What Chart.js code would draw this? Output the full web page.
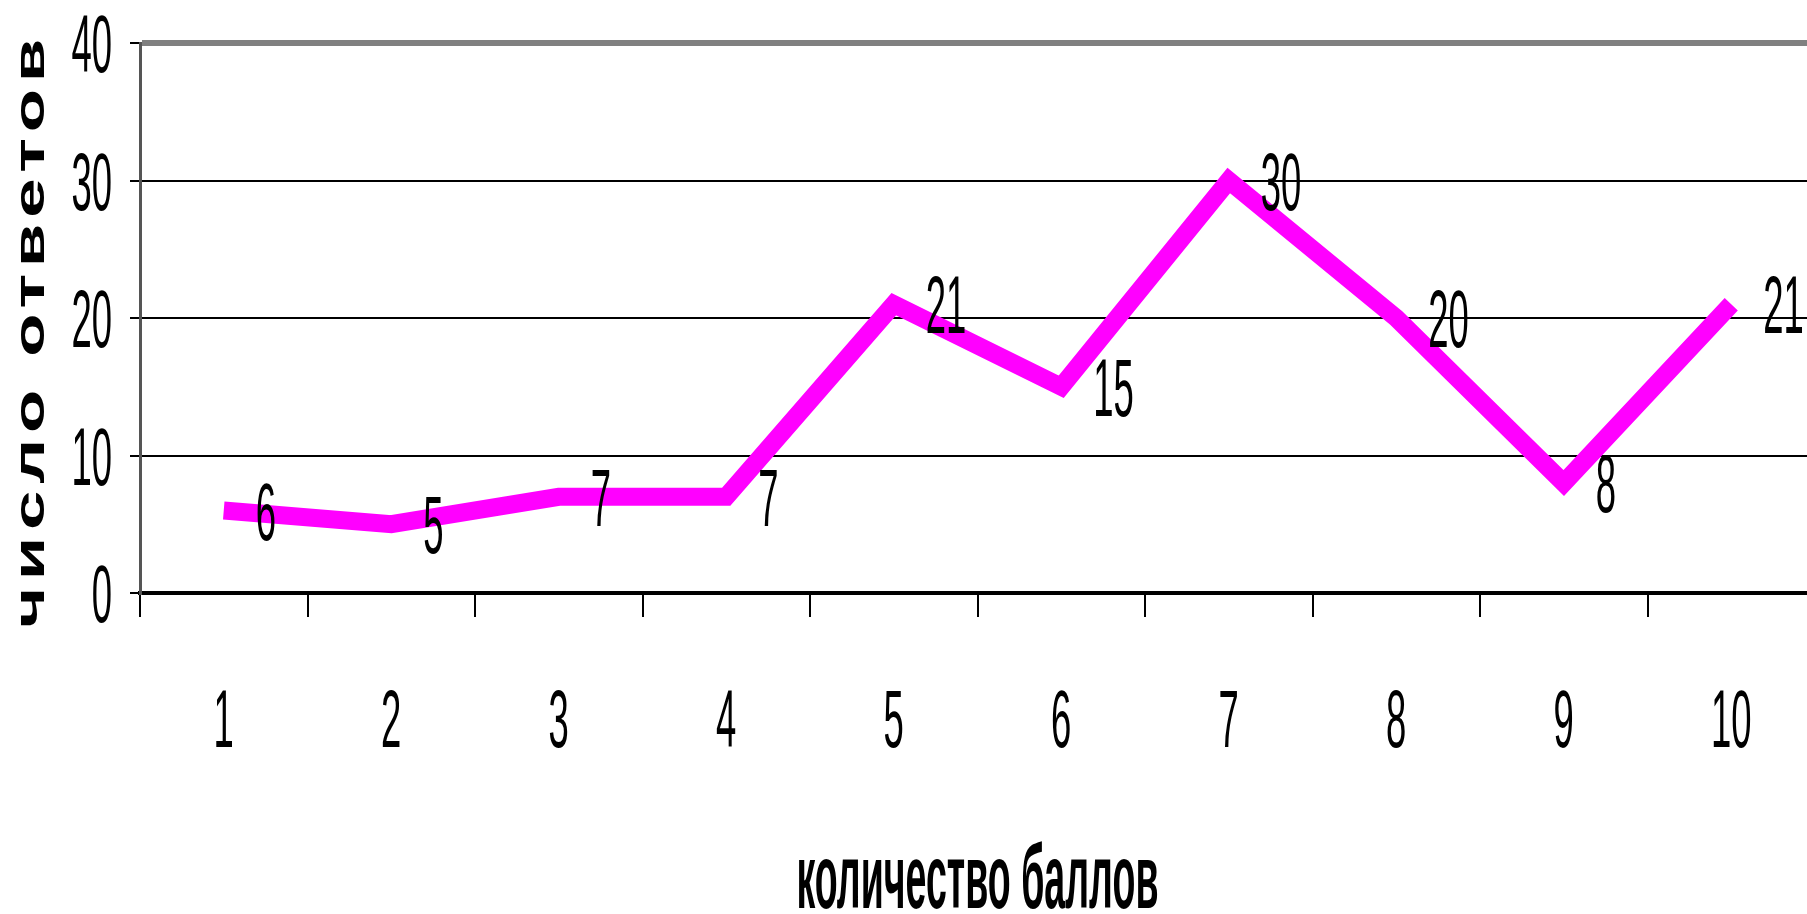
<!DOCTYPE html>
<html>
<head>
<meta charset="utf-8">
<script src="https://cdn.jsdelivr.net/npm/chart.js@4/dist/chart.umd.min.js"></script>
<style>
  html, body { margin: 0; padding: 0; background: #fff; overflow: hidden; }
</style>
</head>
<body>
<canvas id="scoreChart" width="1815" height="914"></canvas>
<script>
const categories = ['1', '2', '3', '4', '5', '6', '7', '8', '9', '10'];
const answers = [6, 5, 7, 7, 21, 15, 30, 20, 8, 21];
const yMin = 0;
const yMax = 40;
const yStep = 10;
const xTitle = 'количество баллов';
const yTitle = 'число ответов';

const NUM_FONT = '81px "Liberation Sans", Arial, sans-serif';
const SQUEEZE = 0.45;

// narrow, tall digits like the original slide
function squeezedText(ctx, text, x, y, align) {
    ctx.save();
    ctx.font = NUM_FONT;
    ctx.fillStyle = '#000';
    ctx.textAlign = align;
    ctx.textBaseline = 'alphabetic';
    ctx.translate(x, y);
    ctx.scale(SQUEEZE, 1);
    ctx.fillText(text, 0, 0);
    ctx.restore();
}

const textPlugin = {
    id: 'slideText',
    afterDraw(chart) {
        const ctx = chart.ctx;
        const xs = chart.scales.x;
        const ys = chart.scales.y;
        const area = chart.chartArea;

        // y tick labels
        ys.ticks.forEach((t, i) => {
            squeezedText(ctx, String(t.value), area.left - 28, ys.getPixelForTick(i) + 29, 'right');
        });
        // x tick labels
        xs.ticks.forEach((t, i) => {
            squeezedText(ctx, xs.getLabelForValue(t.value), xs.getPixelForTick(i), area.bottom + 125 + 29, 'center');
        });
        // value labels next to the points
        const meta = chart.getDatasetMeta(0);
        meta.data.forEach((pt, i) => {
            squeezedText(ctx, String(answers[i]), pt.x + 32, pt.y + 29, 'left');
        });

        // x axis title
        ctx.save();
        ctx.font = 'bold 90px "Liberation Sans", Arial, sans-serif';
        ctx.fillStyle = '#000';
        ctx.textAlign = 'center';
        ctx.textBaseline = 'alphabetic';
        ctx.fillText(xTitle, (area.left + area.right) / 2, 908, 362);
        ctx.restore();

        // y axis title, spaced out and stretched
        ctx.save();
        ctx.font = 'bold 42px "Liberation Sans", Arial, sans-serif';
        ctx.fillStyle = '#000';
        ctx.letterSpacing = '4px';
        const w = ctx.measureText(yTitle).width;
        ctx.translate(44, 330);
        ctx.rotate(-Math.PI / 2);
        ctx.scale(596 / w, 1);
        ctx.textAlign = 'center';
        ctx.textBaseline = 'alphabetic';
        ctx.fillText(yTitle, 0, 0);
        ctx.restore();
    }
};

const ctx = document.getElementById('scoreChart').getContext('2d');
new Chart(ctx, {
    type: 'line',
    data: {
        labels: categories,
        datasets: [{
            data: answers,
            borderColor: '#ff00ff',
            borderWidth: 18,
            borderJoinStyle: 'miter',
            borderCapStyle: 'butt',
            pointRadius: 0,
            tension: 0,
            fill: false,
            clip: false
        }]
    },
    options: {
        responsive: false,
        animation: false,
        devicePixelRatio: 1,
        layout: { padding: { top: 43, left: 0, right: 0, bottom: 0 } },
        plugins: {
            legend: { display: false },
            tooltip: { enabled: false }
        },
        scales: {
            x: {
                offset: true,
                grid: {
                    offset: true,
                    drawOnChartArea: false,
                    drawTicks: true,
                    tickLength: 24,
                    color: '#000',
                    lineWidth: 2
                },
                border: { color: '#000', width: 4 },
                ticks: { display: false },
                afterFit: (s) => { s.height = 914 - 593; }
            },
            y: {
                min: yMin,
                max: yMax,
                ticks: { stepSize: yStep, display: false },
                grid: {
                    color: (c) => c.tick && c.tick.value === yMax ? '#808080' : '#000',
                    lineWidth: (c) => {
                        if (!c.tick) return 2;
                        if (c.tick.value === yMax) return 6;
                        if (c.tick.value === yMin) return 4;
                        return 2;
                    },
                    tickLength: 10,
                    tickColor: '#000',
                    tickWidth: 2
                },
                border: { color: '#555', width: 3 },
                afterFit: (s) => { s.width = 140; }
            }
        }
    },
    plugins: [textPlugin]
});
</script>
</body>
</html>
